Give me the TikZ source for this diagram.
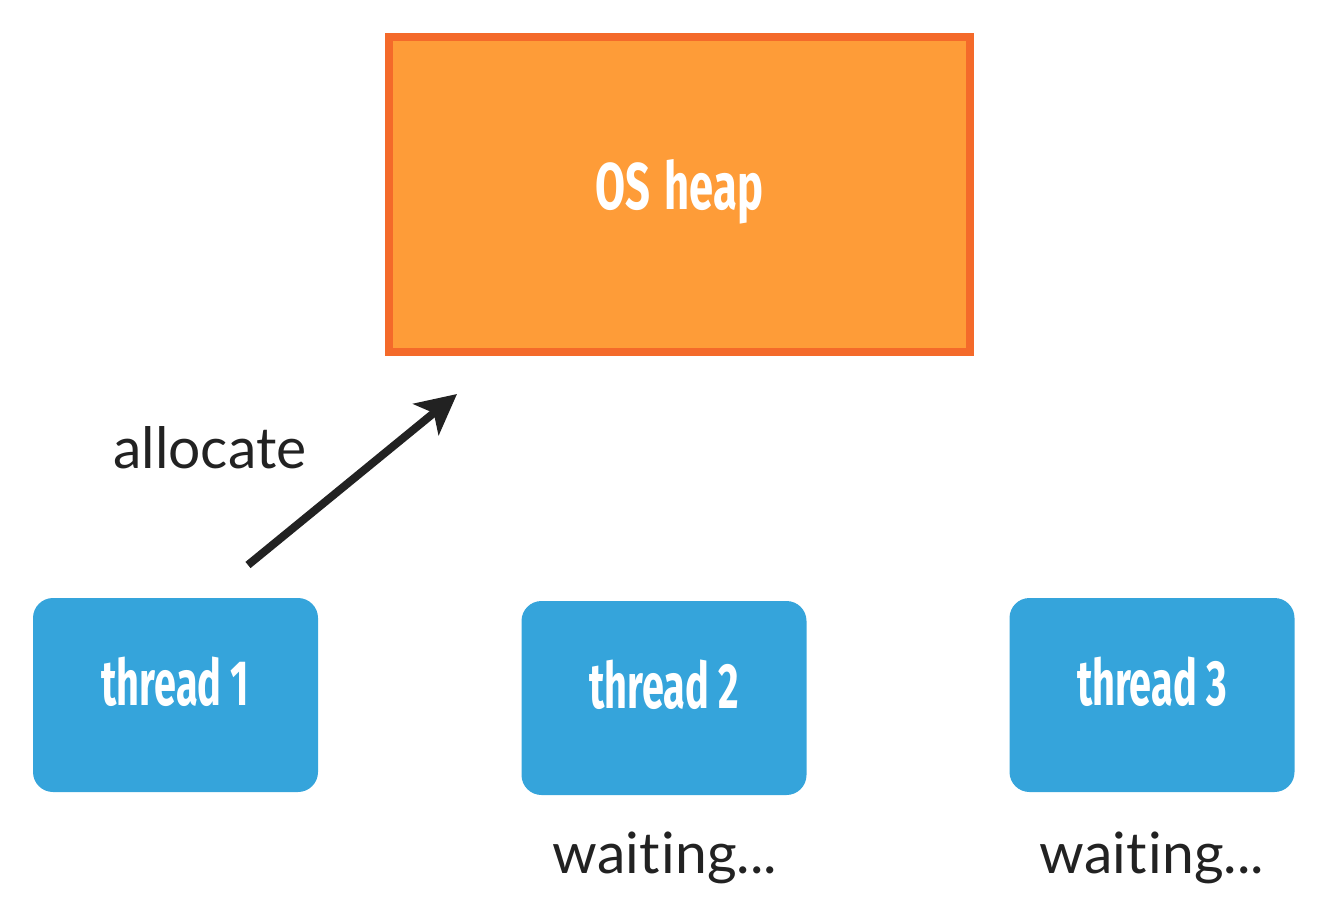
\documentclass[tikz,border=0pt]{standalone}
\usepackage{fontspec}
\setmainfont[Ligatures=NoCommon]{Lato}
\newfontfamily\condfont{Fira Sans}
\usetikzlibrary{arrows.meta}
\definecolor{heapfill}{HTML}{FE9C38}
\definecolor{heapline}{HTML}{F46A2A}
\definecolor{thrfill}{HTML}{35A4DB}
\definecolor{ink}{HTML}{222222}
\newcommand{\condtext}[2]{\scalebox{#1}[1]{\condfont\bfseries #2}}
\tikzset{
  heapbox/.style={draw=heapline, line width=8pt, fill=heapfill, minimum width=581pt, minimum height=315pt, inner sep=0pt, text=white, font=\fontsize{66}{66}\selectfont, text depth=20pt},
  thrbox/.style={fill=thrfill, rounded corners=20pt, minimum width=285pt, minimum height=194pt, inner sep=0pt, text=white, font=\fontsize{64}{64}\selectfont, text depth=28pt},
  plain/.style={text=ink, font=\fontsize{57}{57}\selectfont, inner sep=0pt},
  arr/.style={draw=ink, line width=8pt, -{Stealth[length=40pt, width=40pt, inset=10pt]}}
}
\begin{document}
\begin{tikzpicture}[x=1pt,y=-1pt]
\useasboundingbox (0,0) rectangle (1321,909);
\node[heapbox] (heap) at (679.5,194.5) {\condtext{0.66}{OS\hspace{6pt} heap}};
\node[thrbox] (t1) at (175.5,695) {\condtext{0.62}{thread 1}};
\node[thrbox] (t2) at (664,698) {\condtext{0.62}{thread 2}};
\node[thrbox] (t3) at (1152,695) {\condtext{0.62}{thread 3}};
\node[plain] (alloc) at (210,448) {allocate};
\node[plain] (w2) at (665,858) {wait\kern2pt ing...};
\node[plain] (w3) at (1152,858) {wait\kern2pt ing...};
\coordinate (a0) at (248,565);
\coordinate (a1) at (457,394);
\draw[arr] (a0) -- (a1);
\end{tikzpicture}
\end{document}
